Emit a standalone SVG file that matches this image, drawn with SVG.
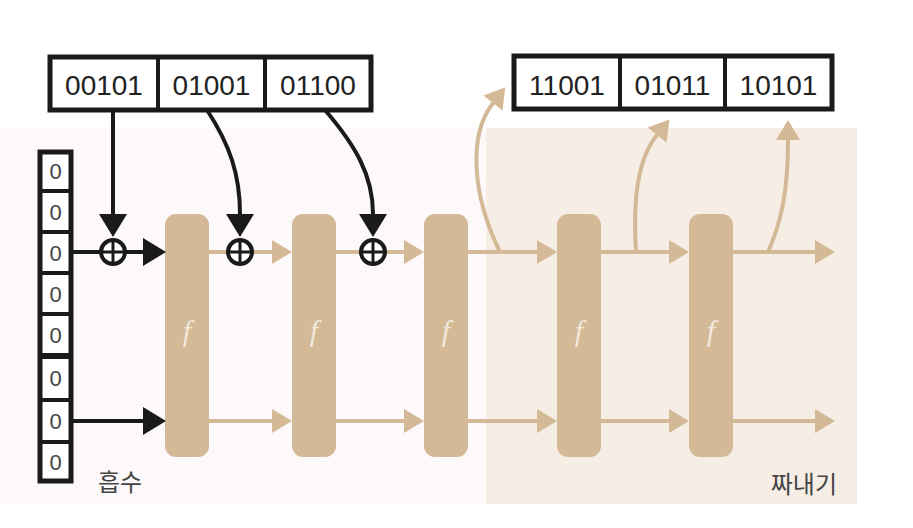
<svg xmlns="http://www.w3.org/2000/svg" width="913" height="528" viewBox="0 0 913 528">
<style>
.box{fill:#fff;stroke:#1a1a1a;stroke-width:5}
.div{stroke:#1a1a1a;stroke-width:4}
.bits{font-family:"Liberation Sans",Arial,sans-serif;font-size:28px;fill:#222;text-anchor:middle}
.zero{font-family:"Liberation Sans",Arial,sans-serif;font-size:22px;fill:#444;text-anchor:middle}
.fbox{fill:#d4b997}
.ftxt{font-family:"Liberation Serif","Times New Roman",serif;font-style:italic;font-size:30px;fill:#f1e8dc;text-anchor:middle}
.blk{fill:none;stroke:#1a1a1a;stroke-width:4}
.tan{fill:none;stroke:#d4b997;stroke-width:4}
.xor{fill:#fff;stroke:#1a1a1a;stroke-width:4}
.xc{stroke:#1a1a1a;stroke-width:3}
.lbl{font-family:"Noto Sans CJK KR","Noto Sans",sans-serif;font-size:24px;fill:#444}
</style>
<defs>
<marker id="ab" markerUnits="userSpaceOnUse" markerWidth="24" markerHeight="28" viewBox="0 0 24 28" refX="0" refY="14" orient="auto" overflow="visible">
<path d="M0,0 L23,14 L0,28 z" fill="#1a1a1a"/>
</marker>
<marker id="at" markerUnits="userSpaceOnUse" markerWidth="22" markerHeight="26" viewBox="0 0 22 26" refX="0" refY="12" orient="auto" overflow="visible">
<path d="M0,0 L20,12 L0,24 z" fill="#d4b997"/>
</marker>
</defs>
<rect x="0" y="0" width="913" height="528" fill="#fff"/>
<rect x="0" y="128" width="486" height="376" fill="#fdf9fa"/>
<rect id="squeeze-area" x="486" y="128" width="371" height="376" fill="#f6eee5"/>

<g id="input-blocks">
<rect class="box" x="50" y="57" width="321" height="53"/>
<line class="div" x1="158" y1="57" x2="158" y2="110"/>
<line class="div" x1="265" y1="57" x2="265" y2="110"/>
<text class="bits" x="104" y="95">00101</text>
<text class="bits" x="211.5" y="95">01001</text>
<text class="bits" x="318" y="95">01100</text>
</g>

<g id="output-blocks">
<rect class="box" x="514" y="56" width="318" height="53"/>
<line class="div" x1="620" y1="56" x2="620" y2="109"/>
<line class="div" x1="725" y1="56" x2="725" y2="109"/>
<text class="bits" x="567" y="95">11001</text>
<text class="bits" x="672.5" y="95">01011</text>
<text class="bits" x="778.5" y="95">10101</text>
</g>

<g id="state">
<rect class="box" x="40" y="152" width="31" height="329"/>
<line class="div" x1="40" y1="191" x2="71" y2="191"/>
<line class="div" x1="40" y1="232" x2="71" y2="232"/>
<line class="div" x1="40" y1="273" x2="71" y2="273"/>
<line class="div" x1="40" y1="314" x2="71" y2="314"/>
<line x1="40" y1="356" x2="71" y2="356" stroke="#1a1a1a" stroke-width="6"/>
<line class="div" x1="40" y1="400" x2="71" y2="400"/>
<line class="div" x1="40" y1="442" x2="71" y2="442"/>
<text class="zero" x="55.5" y="179">0</text>
<text class="zero" x="55.5" y="220">0</text>
<text class="zero" x="55.5" y="261">0</text>
<text class="zero" x="55.5" y="302">0</text>
<text class="zero" x="55.5" y="343">0</text>
<text class="zero" x="55.5" y="386">0</text>
<text class="zero" x="55.5" y="429">0</text>
<text class="zero" x="55.5" y="470">0</text>
</g>

<g id="f1"><rect class="fbox" x="165" y="214" width="44" height="243" rx="11"/><text class="ftxt" x="187" y="341">f</text></g>
<g id="f2"><rect class="fbox" x="292" y="214" width="44" height="243" rx="11"/><text class="ftxt" x="314" y="341">f</text></g>
<g id="f3"><rect class="fbox" x="424" y="214" width="44" height="243" rx="11"/><text class="ftxt" x="446" y="341">f</text></g>
<g id="f4"><rect class="fbox" x="557" y="214" width="44" height="243" rx="11"/><text class="ftxt" x="579" y="341">f</text></g>
<g id="f5"><rect class="fbox" x="689" y="214" width="44" height="243" rx="11"/><text class="ftxt" x="711" y="341">f</text></g>

<g id="connectors">
<path class="tan" d="M209,252 H272" marker-end="url(#at)"/>
<path class="tan" d="M336,252 H404" marker-end="url(#at)"/>
<path class="tan" d="M468,252 H537" marker-end="url(#at)"/>
<path class="tan" d="M601,252 H669" marker-end="url(#at)"/>
<path class="tan" d="M733,252 H815" marker-end="url(#at)"/>
<path class="tan" d="M209,421 H272" marker-end="url(#at)"/>
<path class="tan" d="M336,421 H404" marker-end="url(#at)"/>
<path class="tan" d="M468,421 H537" marker-end="url(#at)"/>
<path class="tan" d="M601,421 H669" marker-end="url(#at)"/>
<path class="tan" d="M733,421 H815" marker-end="url(#at)"/>
<path class="tan" d="M500,252 C472,195 468,135 493,103" marker-end="url(#at)"/>
<path class="tan" d="M636,252 C633,200 637,160 657,135" marker-end="url(#at)"/>
<path class="tan" d="M768,252 C782,220 788,190 788,140" marker-end="url(#at)"/>
<path class="blk" d="M73,252 H143" marker-end="url(#ab)"/>
<path class="blk" d="M73,421 H143" marker-end="url(#ab)"/>
<path class="blk" d="M113,110 V214" marker-end="url(#ab)"/>
<path class="blk" d="M207,110 C230,145 240,175 240,214" marker-end="url(#ab)"/>
<path class="blk" d="M325,110 C355,145 373,175 373,214" marker-end="url(#ab)"/>
</g>

<g id="xor1"><circle class="xor" cx="113" cy="252" r="12"/><line class="xc" x1="101" y1="252" x2="125" y2="252"/><line class="xc" x1="113" y1="240" x2="113" y2="264"/></g>
<g id="xor2"><circle class="xor" cx="240" cy="252" r="12"/><line class="xc" x1="228" y1="252" x2="252" y2="252"/><line class="xc" x1="240" y1="240" x2="240" y2="264"/></g>
<g id="xor3"><circle class="xor" cx="373" cy="252" r="12"/><line class="xc" x1="361" y1="252" x2="385" y2="252"/><line class="xc" x1="373" y1="240" x2="373" y2="264"/></g>

<g id="labels">
<text class="lbl" x="120" y="491" text-anchor="middle">흡수</text>
<text class="lbl" x="837" y="493" text-anchor="end">짜내기</text>
</g>
</svg>
